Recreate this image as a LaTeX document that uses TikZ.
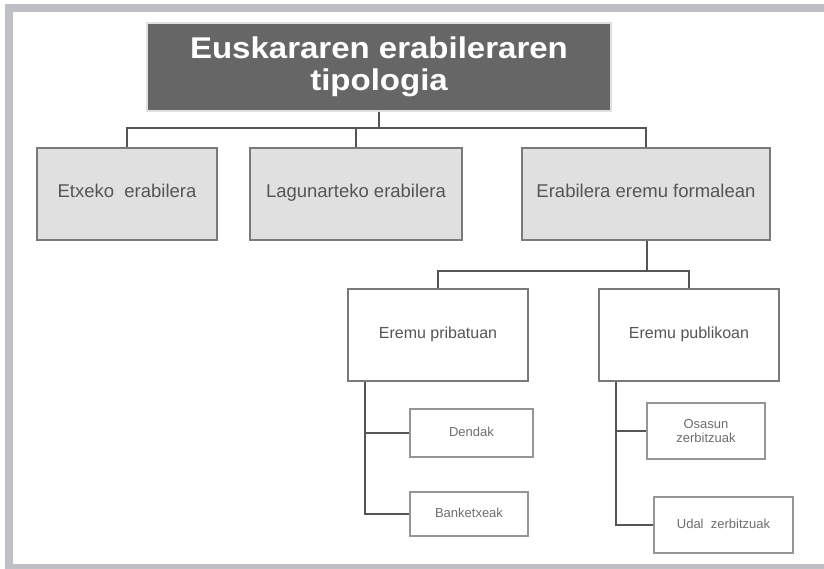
\documentclass[tikz,border=0pt]{standalone}
\usepackage{fontspec}
\setmainfont{Liberation Sans}
\newfontfamily\titlefont[FakeStretch=1.1]{Liberation Sans}
\usepackage{tikz}
\usetikzlibrary{positioning}
\usetikzlibrary{calc}
\definecolor{frameGray}{HTML}{BFC0C4}
\definecolor{titleGray}{HTML}{666666}
\definecolor{boxGray}{HTML}{E0E0E0}
\definecolor{edgeGray}{HTML}{7A7A7A}
\definecolor{lineGray}{HTML}{555555}
\definecolor{textGray}{HTML}{555555}
\tikzset{mybox/.style={draw=edgeGray, line width=1.4pt, align=center, inner sep=0pt, text=textGray}}
\tikzset{oneline/.style={text height=0.72em, text depth=0pt}}
\tikzset{myboxTop/.style={mybox, fill=titleGray, draw=boxGray, text=white, font=\titlefont\fontsize{30}{32}\selectfont\bfseries}}
\tikzset{myboxMid/.style={mybox, oneline, fill=boxGray, font=\fontsize{18.5}{21}\selectfont}}
\tikzset{myboxSub/.style={mybox, oneline, fill=white, font=\fontsize{16}{19}\selectfont}}
\tikzset{myboxLeaf/.style={mybox, fill=white, draw=edgeGray!80, line width=1.1pt, text=textGray!85, font=\fontsize{13}{14}\selectfont}}
\tikzset{myline/.style={draw=lineGray, line width=1.8pt}}

\begin{document}
\begin{tikzpicture}[x=1pt, y=-1pt]

\useasboundingbox (0,0) rectangle (824,569);
\fill[white] (0,0) rectangle (824,569);
\fill[frameGray] (5,4) rectangle (824,12);
\fill[frameGray] (5,4) rectangle (13,569);
\fill[frameGray] (5,564) rectangle (824,569);

\node[myboxTop, minimum width=464pt, minimum height=88pt] (title) at (379, 67) {Euskararen erabileraren\\tipologia};

\node[myboxMid, minimum width=180pt, minimum height=92pt] (etxe) at (127, 194) {Etxeko~ erabilera};
\node[myboxMid, minimum width=212pt, minimum height=92pt] (lagun) at (356, 194) {Lagunarteko erabilera};
\node[myboxMid, minimum width=248pt, minimum height=92pt] (formal) at (646, 194) {Erabilera eremu formalean};

\node[myboxSub, minimum width=180pt, minimum height=92pt] (priv) at (438, 335) {Eremu pribatuan};
\node[myboxSub, minimum width=180pt, minimum height=92pt] (publ) at (689, 335) {Eremu publikoan};

\node[myboxLeaf, oneline, minimum width=123pt, minimum height=48pt] (dend) at (471.5, 433) {Dendak};
\node[myboxLeaf, oneline, minimum width=118pt, minimum height=44pt] (bank) at (469, 514) {Banketxeak};
\node[myboxLeaf, minimum width=118pt, minimum height=56pt] (osas) at (706, 431) {Osasun\\zerbitzuak};
\node[myboxLeaf, oneline, minimum width=139pt, minimum height=56pt] (udal) at (723.5, 525) {Udal~ zerbitzuak};

\coordinate (bus1) at (379, 128);
\coordinate (bus2) at (647, 271);

\draw[myline] (title.south) -- (bus1);
\draw[myline] (bus1) -| (etxe.north);
\draw[myline] (bus1) -| (lagun.north);
\draw[myline] (bus1) -| (formal.north);

\draw[myline] (formal.south -| bus2) -- (bus2);
\draw[myline] (bus2) -| (priv.north);
\draw[myline] (bus2) -| (publ.north);

\draw[myline] ([xshift=18pt]priv.south west) |- (dend.west);
\draw[myline] ([xshift=18pt]priv.south west) |- (bank.west);
\draw[myline] ([xshift=18pt]publ.south west) |- (osas.west);
\draw[myline] ([xshift=18pt]publ.south west) |- (udal.west);

\end{tikzpicture}
\end{document}
